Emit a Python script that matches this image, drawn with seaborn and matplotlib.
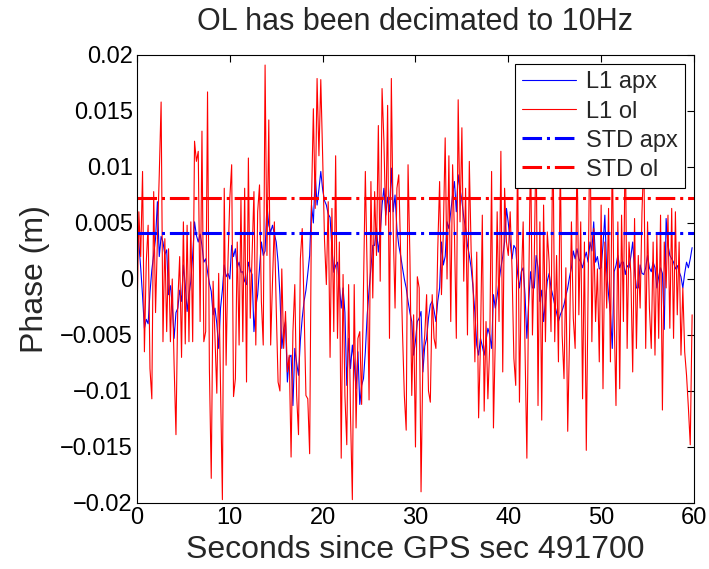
import numpy as np
import pandas as pd
import matplotlib
matplotlib.use("Agg")
import matplotlib.pyplot as plt
import seaborn as sns
from matplotlib.ticker import FuncFormatter

# ---- data (phase in millimetres, sampled every 0.2 s) ----
sample_step_s = 0.2
l1_apx_mm = [
    4.5, 3.2, 1.0, -1.5, -4.4, -3.6, -4.0, -1.2, 0.8, 2.2,
    3.6, 6.9, 2.0, 3.8, 3.3, 2.2, 2.6, -1.4, -0.6, -2.3,
    -5.3, -3.0, -2.6, -1.0, -2.0, 1.25, -0.5, -2.9, -1.4, -0.2,
    2.1, 5.1, 3.9, 3.3, 4.0, 3.0, 1.5, 1.8, 0.65, -0.4,
    -1.1, -3.2, -2.6, -4.0, -6.2, -2.6, -1.0, 1.25, 0.2, 0.5,
    0.0, 3.0, 2.0, 2.7, 1.0, 1.5, 0.6, 0.65, -0.2, -0.5,
    1.5, 0.8, 0.4, -4.7, -2.5, -1.4, 1.0, 3.3, 2.1, 2.5,
    6.6, 4.8, 4.2, 4.8, 4.0, 3.3, 1.5, -1.4, -6.2, -4.5,
    -3.8, -9.2, -7.0, -6.8, -11.3, -6.2, -7.5, -8.6, -5.5, -3.5,
    -2.0, -1.0, 0.5, 2.1, 6.6, 5.0, 9.3, 6.6, 8.0, 9.6,
    8.0, 7.0, 6.6, 5.8, 5.5, 2.7, 0.6, 1.2, 1.5, -0.5,
    -2.6, -0.8, -3.0, -9.5, -5.3, -8.0, -5.9, -7.5, -9.8, -6.5,
    -11.2, -9.5, -8.9, -6.5, -3.2, -1.0, 1.0, 3.0, 3.0, 4.5,
    2.4, 4.0, 6.6, 8.1, 5.7, 7.3, 6.0, 9.9, 6.0, 7.5,
    4.5, 3.0, 2.1, 1.0, 0.0, -0.8, -2.0, -3.0, -3.8, -6.8,
    -5.5, -3.8, -3.5, -2.9, -8.3, -6.0, -5.3, -3.5, -2.3, -2.0,
    -2.8, -3.8, -2.0, -0.8, 3.3, 1.25, 2.0, 5.1, 4.5, 6.0,
    7.5, 8.7, 6.0, 9.3, 8.0, 7.0, 5.5, 4.5, 3.0, 2.1,
    1.0, -0.8, -3.0, -5.9, -6.8, -5.3, -6.0, -6.8, -5.5, -4.4,
    -5.0, -6.2, -1.4, -2.6, -1.5, -0.2, 1.0, 2.0, 3.3, 6.3,
    5.0, 3.3, 1.8, 3.0, 2.7, 0.5, -0.8, 0.65, 1.0, -1.4,
    -5.3, -2.0, 0.65, -0.8, -0.8, 2.1, 1.0, -2.0, -1.0, -3.8,
    -2.0, -0.2, 0.5, -0.8, -1.5, -2.3, -3.0, -3.8, -3.2, -2.8,
    -2.3, -1.5, -0.8, 0.2, 1.0, 2.5, 1.8, 2.7, 1.8, 1.5,
    1.0, 1.8, 2.4, 1.5, 3.3, 2.5, 5.1, 1.5, 2.0, 0.9,
    1.0, 3.0, 5.7, 0.65, -1.4, -3.0, -6.2, 0.65, 1.2, 2.1,
    1.0, 1.5, 1.5, 0.4, 1.2, 1.0, 2.0, 3.3, 0.8, -0.8,
    -0.8, 1.25, 0.5, 0.4, 1.0, 2.1, 1.0, 0.65, 1.5, 1.0,
    -0.8, 0.2, 1.0, 0.5, -4.5, 5.4, 3.0, 2.1, 1.8, 1.5,
    0.9, 1.2, 0.65, 0.2, -0.8, 0.5, 1.5, 1.0, 1.8, 2.8,
]
l1_ol_mm = [
    -3.8, 6.0, 2.0, 9.6, -6.5, 1.5, 4.8, -8.0, -10.7, 7.8,
    -3.0, 3.5, 9.3, 15.8, -5.6, 3.6, -4.7, 2.7, -5.6, 0.0,
    -7.7, -13.9, -2.0, 2.0, -7.0, 5.1, -5.8, 4.8, -5.6, 5.1,
    -5.6, 12.3, 10.5, 11.4, -3.8, 13.2, -5.6, -4.7, 16.7, -8.0,
    -17.8, -0.2, -5.3, -10.2, 0.5, -9.8, -19.7, 8.1, -7.7, 1.5,
    7.2, 10.2, -10.5, -8.9, 3.3, -5.9, 7.2, -5.6, 8.1, -9.2,
    10.8, -3.5, 2.1, 7.8, -5.9, 6.0, 8.4, -2.0, -5.9, 19.1,
    2.1, 14.2, -5.9, -0.2, 5.1, -2.6, -9.2, -10.0, 0.9, -6.2,
    -2.9, -8.3, -6.8, -15.9, -4.7, -0.5, -10.4, -13.9, 1.8, 4.5,
    -2.6, -10.4, -10.7, -15.6, 6.9, 15.2, 6.3, 17.9, 11.0, 17.8,
    11.0, 3.5, -0.5, 6.9, -7.0, 6.3, -4.7, 11.0, -5.3, 3.3,
    -16.0, 0.4, -10.4, -14.8, -0.5, -12.1, -19.7, -0.5, -13.3, -5.3,
    -4.7, -11.2, -0.5, 9.6, 0.4, -10.8, 8.7, -1.7, 7.8, 2.1,
    13.7, -0.2, 17.0, 12.3, 4.8, 15.5, -5.3, 17.9, 4.5, -2.6,
    8.1, 9.3, 2.4, -4.7, -10.4, -13.5, 10.2, 2.0, -10.4, -3.2,
    -15.0, 0.2, -0.8, -19.0, -7.0, -5.0, -1.4, -10.0, -11.0, -1.4,
    -5.3, -6.2, 2.7, 8.7, -1.4, 4.2, 12.6, 0.0, 11.0, -3.8,
    10.2, 4.0, -5.3, 16.0, 5.1, 13.5, -0.2, 8.1, -5.0, 10.5,
    2.4, -0.5, -7.4, 2.4, -12.4, -5.9, 5.7, -11.8, -3.8, -10.7,
    -5.9, 9.6, -13.3, -5.3, 6.0, -3.8, 11.4, -8.3, 8.1, 3.3,
    2.1, 6.0, 0.9, -7.1, -9.5, 12.4, -11.0, -0.5, 5.1, -6.2,
    -16.0, -0.8, 12.0, -5.0, 2.1, 13.0, -11.3, 5.1, -12.6, 6.6,
    -5.6, 4.2, 1.5, -4.7, 14.0, -5.6, 2.1, -7.4, 11.0, -5.0,
    -8.9, 1.0, -13.6, -5.0, 5.1, -3.5, -6.2, 12.0, -3.2, 5.1,
    -10.7, 3.3, -15.3, -0.8, 15.0, -5.6, 4.5, -3.8, 0.9, -7.4,
    6.6, -9.8, 3.3, -2.6, 6.3, -7.4, 12.0, -3.2, -11.3, 5.1,
    -9.8, 5.7, -3.8, 14.0, -6.2, 3.3, 0.5, -8.3, 5.4, -6.2,
    2.1, -2.6, 6.0, 11.0, -6.2, 5.1, -2.6, -6.2, 3.3, -6.8,
    3.9, -5.3, 5.7, -11.7, 3.3, -0.8, 5.7, -4.4, 6.3, -5.3,
    6.0, -3.2, 3.3, -6.8, -0.8, -6.5, -8.6, -11.5, -14.8, -3.2,
]
std_apx_m = 0.0041
std_ol_m = 0.0072
series_labels = ["L1 apx", "L1 ol", "STD apx", "STD ol"]
x_ticks = [0, 10, 20, 30, 40, 50, 60]
y_ticks = [-0.02, -0.015, -0.01, -0.005, 0, 0.005, 0.01, 0.015, 0.02]

# ---- build tables ----
t = np.arange(len(l1_apx_mm)) * sample_step_s
df = pd.DataFrame({
    "t": t,
    "apx": np.array(l1_apx_mm) / 1000.0,
    "ol": np.array(l1_ol_mm) / 1000.0,
})
x_span = [x_ticks[0], x_ticks[-1]]
std_df = pd.DataFrame({"t": x_span,
                       "apx": [std_apx_m] * 2,
                       "ol": [std_ol_m] * 2})

sns.set_style("white")
plt.rcParams["font.family"] = ["Liberation Sans", "DejaVu Sans"]

fig = plt.figure(figsize=(7.09, 5.69), dpi=100)
ax = fig.add_axes([0.1932, 0.116, 0.7856, 0.7874])

sns.lineplot(data=df, x="t", y="apx", color=(0, 0, 1), lw=0.8,
             estimator=None, sort=False, ax=ax, label=series_labels[0])
sns.lineplot(data=df, x="t", y="ol", color=(1, 0, 0), lw=0.8,
             estimator=None, sort=False, ax=ax, label=series_labels[1])
sns.lineplot(data=std_df, x="t", y="apx", color=(0, 0, 1), lw=2.2,
             linestyle="-.", estimator=None, ax=ax, label=series_labels[2])
sns.lineplot(data=std_df, x="t", y="ol", color=(1, 0, 0), lw=2.2,
             linestyle="-.", estimator=None, ax=ax, label=series_labels[3])

ax.set_xlim(x_ticks[0], x_ticks[-1])
ax.set_ylim(y_ticks[0], y_ticks[-1])
ax.set_xticks(x_ticks)
ax.set_yticks(y_ticks)
ax.yaxis.set_major_formatter(FuncFormatter(
    lambda v, p: ("%g" % v).replace("-", "\u2212") if abs(v) > 1e-12 else "0"))
ax.tick_params(direction="in", length=5, width=0.8, top=True, right=True,
               labelsize=17, colors="black", pad=3)
for s in ax.spines.values():
    s.set_color("black")
    s.set_linewidth(0.8)
    s.set_visible(True)

ax.set_xlabel("Seconds since GPS sec 491700", fontsize=23, labelpad=4)
ax.set_ylabel("Phase (m)", fontsize=23, labelpad=7)
ax.set_title("OL has been decimated to 10Hz", fontsize=22, pad=18)

leg = ax.legend(loc="upper right", fontsize=17, frameon=True, fancybox=False,
                handlelength=2.3, labelspacing=0.3, borderpad=0.3,
                handletextpad=0.4, borderaxespad=0.4)
leg.get_frame().set_edgecolor("black")
leg.get_frame().set_linewidth(0.8)
leg.get_frame().set_alpha(1)

fig.savefig("out.png", dpi=100, facecolor="white")
